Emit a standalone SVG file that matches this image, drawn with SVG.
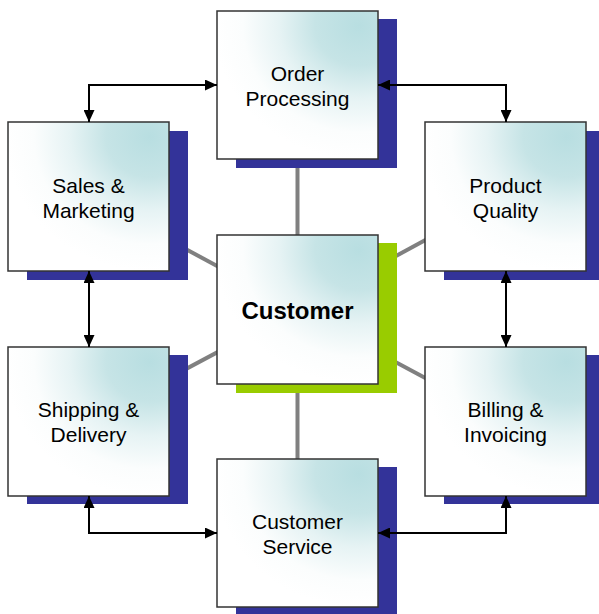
<svg xmlns="http://www.w3.org/2000/svg" width="599" height="614" viewBox="0 0 599 614">
<defs>
<radialGradient id="g" cx="0.88" cy="0.1" r="0.9" fx="0.88" fy="0.1">
<stop offset="0" stop-color="#b8dee1"/>
<stop offset="0.3" stop-color="#c6e4e6"/>
<stop offset="0.55" stop-color="#e6f3f4"/>
<stop offset="0.8" stop-color="#fbfdfd"/>
<stop offset="1" stop-color="#ffffff"/>
</radialGradient>
<marker id="ah" markerUnits="userSpaceOnUse" markerWidth="12" markerHeight="11" refX="12" refY="5.5" orient="auto-start-reverse" viewBox="0 0 12 11">
<path d="M0,0 L12,5.5 L0,11 z" fill="#000"/>
</marker>
</defs>
<style>
.sh{fill:#333399}
.shc{fill:#99cc00}
.bx{fill:url(#g);stroke:#333;stroke-width:1.5}
.t{font-family:"Liberation Sans",Arial,sans-serif;font-size:21px;fill:#000;text-anchor:middle}
.tb{font-family:"Liberation Sans",Arial,sans-serif;font-size:24px;font-weight:bold;fill:#000;text-anchor:middle}
.gl{stroke:#808080;stroke-width:4;fill:none}
.ar{stroke:#000;stroke-width:2;fill:none;marker-start:url(#ah);marker-end:url(#ah)}
</style>
<g id="spokes">
<line class="gl" x1="297.5" y1="309.5" x2="297.5" y2="85"/>
<line class="gl" x1="297.5" y1="309.5" x2="297.5" y2="533"/>
<line class="gl" x1="297.5" y1="309.5" x2="88.5" y2="196.5"/>
<line class="gl" x1="297.5" y1="309.5" x2="505.5" y2="196.5"/>
<line class="gl" x1="297.5" y1="309.5" x2="88.5" y2="421"/>
<line class="gl" x1="297.5" y1="309.5" x2="505.5" y2="421"/>
</g>
<g id="order">
<rect class="sh" x="236" y="19" width="161" height="149"/>
<rect class="bx" x="217" y="11" width="161" height="148"/>
<text class="t" x="297.5" y="81">Order</text>
<text class="t" x="297.5" y="106">Processing</text>
</g>
<g id="sales">
<rect class="sh" x="27" y="131" width="161" height="149"/>
<rect class="bx" x="8" y="122" width="161" height="149"/>
<text class="t" x="88.5" y="193">Sales &amp;</text>
<text class="t" x="88.5" y="218">Marketing</text>
</g>
<g id="product">
<rect class="sh" x="444" y="131" width="161" height="149"/>
<rect class="bx" x="425" y="122" width="161" height="149"/>
<text class="t" x="505.5" y="193">Product</text>
<text class="t" x="505.5" y="218">Quality</text>
</g>
<g id="customer">
<rect class="shc" x="236" y="243" width="161" height="150"/>
<rect class="bx" x="217" y="235" width="161" height="149"/>
<text class="tb" x="297.5" y="319">Customer</text>
</g>
<g id="shipping">
<rect class="sh" x="27" y="355" width="161" height="149"/>
<rect class="bx" x="8" y="347" width="161" height="149"/>
<text class="t" x="88.5" y="417">Shipping &amp;</text>
<text class="t" x="88.5" y="442">Delivery</text>
</g>
<g id="billing">
<rect class="sh" x="444" y="355" width="161" height="149"/>
<rect class="bx" x="425" y="347" width="161" height="149"/>
<text class="t" x="505.5" y="417">Billing &amp;</text>
<text class="t" x="505.5" y="442">Invoicing</text>
</g>
<g id="service">
<rect class="sh" x="236" y="467" width="161" height="149"/>
<rect class="bx" x="217" y="459" width="161" height="148"/>
<text class="t" x="297.5" y="529">Customer</text>
<text class="t" x="297.5" y="554">Service</text>
</g>
<g id="connectors">
<path class="ar" d="M217,85 H89 V122"/>
<path class="ar" d="M378,85 H506 V122"/>
<path class="ar" d="M89,271 V347"/>
<path class="ar" d="M506,271 V347"/>
<path class="ar" d="M89,496 V533 H217"/>
<path class="ar" d="M506,496 V533 H378"/>
</g>
</svg>
